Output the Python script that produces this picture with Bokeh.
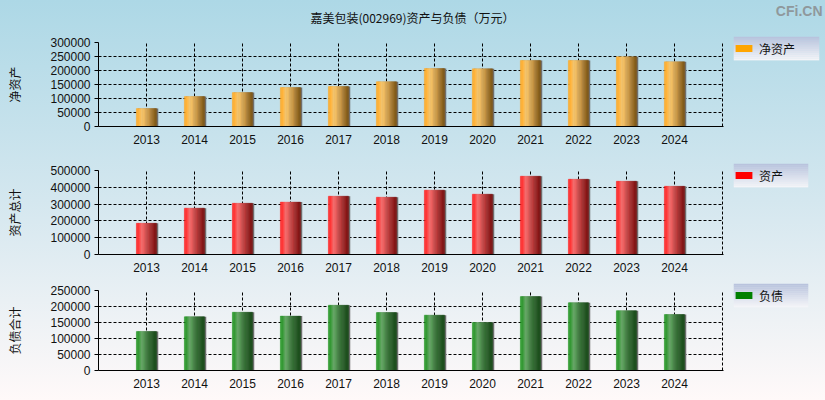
from bokeh.plotting import figure
from bokeh.layouts import column, row
from bokeh.models import (ColumnDataSource, FixedTicker, NumeralTickFormatter, Legend,
                          LegendItem, Range1d)
from bokeh.core.properties import value
from bokeh.embed import file_html
from bokeh.resources import INLINE

# ---------------- data ----------------
years = [2013, 2014, 2015, 2016, 2017, 2018, 2019, 2020, 2021, 2022, 2023, 2024]
net_assets = [64000, 107000, 121000, 139000, 143000, 160000, 207000, 206000, 236000, 236000, 249000, 231000]
total_assets = [186000, 276000, 305000, 312000, 347000, 341000, 383000, 359000, 466000, 448000, 436000, 406000]
total_liabilities = [122000, 168000, 182000, 170000, 204000, 181000, 173000, 150000, 231000, 212000, 187000, 175000]

chart_title = "嘉美包装(002969)资产与负债（万元）"
watermark = "CFi.CN"
panel_axis_labels = ["净资产", "资产总计", "负债合计"]
panel_legend_labels = ["净资产", "资产", "负债"]

# ---------------- style ----------------
W = 825
MAIN_W = 724
LEG_W = W - MAIN_W
LEFT, RIGHT = 98, 1
BW = 0.42
NSLICE = 16
TICK_FONT = "Liberation Sans"
CJK_FONT = "Noto Sans CJK SC"
COMMON = dict(output_backend="svg", toolbar_location=None, title=None, frame_align=False,
              background_fill_alpha=0, border_fill_alpha=0, outline_line_color=None)


def hex2rgb(h):
    h = h.lstrip("#")
    return tuple(int(h[i:i + 2], 16) for i in (0, 2, 4))


def grad(stops, t):
    for (p0, c0), (p1, c1) in zip(stops[:-1], stops[1:]):
        if p0 <= t <= p1:
            f = (t - p0) / (p1 - p0) if p1 > p0 else 0
            a, b = hex2rgb(c0), hex2rgb(c1)
            return "#%02x%02x%02x" % tuple(int(round(a[i] + (b[i] - a[i]) * f)) for i in range(3))
    return stops[-1][1]


def make_main(values, ymax, step, ylabel, stops, height, top, bottom):
    p = figure(width=MAIN_W, height=height, x_range=Range1d(2012, 2025 + 1.0 / 48),
               y_range=Range1d(0, ymax),
               min_border_left=LEFT, min_border_right=RIGHT,
               min_border_top=top, min_border_bottom=bottom, **COMMON)

    # shadow
    p.vbar(x=[y + 0.035 for y in years], top=values, width=BW,
           fill_color="#707070", line_color=None)
    # gradient shaded bar, drawn as thin vertical slices
    xs, tops, ws, cs = [], [], [], []
    sw = BW / NSLICE
    for y, v in zip(years, values):
        for k in range(NSLICE):
            xs.append(y - BW / 2 + (k + 0.5) * sw)
            tops.append(v)
            ws.append(sw * 1.08)
            cs.append(grad(stops, (k + 0.5) / NSLICE))
    src = ColumnDataSource(dict(x=xs, top=tops, w=ws, c=cs))
    p.vbar(x="x", top="top", width="w", fill_color="c", line_color="c", line_width=0.4, source=src)

    yt = list(range(0, ymax + 1, step))
    p.xaxis.ticker = FixedTicker(ticks=years)
    p.xgrid.ticker = FixedTicker(ticks=years + [2025])
    p.yaxis.ticker = FixedTicker(ticks=yt)
    p.ygrid.ticker = FixedTicker(ticks=yt)
    p.yaxis.formatter = NumeralTickFormatter(format="0")

    for g in (p.xgrid, p.ygrid):
        g.grid_line_color = "black"
        g.grid_line_dash = "3 2"
        g.grid_line_width = 1

    for ax in (p.xaxis, p.yaxis):
        ax.axis_line_color = "black"
        ax.axis_line_width = 1
        ax.major_tick_line_color = "black"
        ax.minor_tick_line_color = None
        ax.major_label_text_font = TICK_FONT
        ax.major_label_text_font_size = "12px"
        ax.major_label_text_color = "#111111"
    p.xaxis.major_tick_out = 0
    p.xaxis.major_tick_in = 0
    p.xaxis.major_label_standoff = 8
    p.yaxis.major_tick_out = 4
    p.yaxis.major_tick_in = 0
    p.yaxis.major_label_standoff = 4
    p.yaxis.axis_label = ylabel
    p.yaxis.axis_label_text_font = CJK_FONT
    p.yaxis.axis_label_text_font_size = "12px"
    p.yaxis.axis_label_text_font_style = "normal"
    p.yaxis.axis_label_text_color = "#111111"
    p.yaxis.axis_label_standoff = 24
    return p


def make_legend(label, color, height, box_top, box_w):
    bh = 24
    f = figure(width=LEG_W, height=height, x_range=Range1d(0, box_w), y_range=Range1d(0, bh),
               min_border_left=9, min_border_right=LEG_W - 9 - box_w,
               min_border_top=box_top, min_border_bottom=height - box_top - bh, **COMMON)
    f.axis.visible = False
    f.grid.visible = False
    n = 12
    for i in range(n):
        c = grad([(0, "#b6c1dc"), (1, "#f6f6f9")], (i + 0.5) / n)
        f.quad(left=0, right=box_w, top=bh - i * bh / n, bottom=bh - (i + 1) * bh / n - 0.3,
               fill_color=c, line_color=None)
    swatch = f.vbar(x=[0], top=[0], width=0, fill_color=color, line_color=None)
    leg = Legend(items=[LegendItem(label=label, renderers=[swatch])],
                 location="left",
                 padding=9, margin=0, spacing=0, glyph_width=21, glyph_height=9,
                 label_height=16, label_standoff=5,
                 label_text_font=CJK_FONT, label_text_font_size="12px",
                 label_text_color="#111111",
                 background_fill_alpha=0, border_line_color=None)
    f.add_layout(leg)
    return f


orange_stops = [(0, "#ffa418"), (0.28, "#ffcc6e"), (0.55, "#d9a653"), (1, "#7a5312")]
red_stops = [(0, "#ff1414"), (0.28, "#ff6e6e"), (0.55, "#c84646"), (1, "#780f0f")]
green_stops = [(0, "#159015"), (0.28, "#68ac68"), (0.55, "#3e7a3e"), (1, "#174717")]

# title strip
TH = 36
tf = figure(width=W, height=TH, x_range=Range1d(0, W), y_range=Range1d(0, TH),
            min_border_left=0, min_border_right=0, min_border_top=0, min_border_bottom=0, **COMMON)
tf.axis.visible = False
tf.grid.visible = False
tf.text(x=[412], y=[TH - 17], text=[chart_title], text_font=value(CJK_FONT), text_font_size="12px",
        text_color="#111111", text_align="center", text_baseline="middle")
tf.text(x=[W - 3], y=[TH - 10], text=[watermark], text_font=value("Liberation Sans"),
        text_font_size="14px", text_font_style="bold", text_color="#8f989c",
        text_align="right", text_baseline="middle")

p1 = make_main(net_assets, 300000, 50000, panel_axis_labels[0], orange_stops, 122, 6, 32)
p2 = make_main(total_assets, 500000, 100000, panel_axis_labels[1], red_stops, 120, 12, 24)
p3 = make_main(total_liabilities, 250000, 50000, panel_axis_labels[2], green_stops, 122, 12, 30)

l1 = make_legend(panel_legend_labels[0], "#ffa500", 122, 0, 86)
l2 = make_legend(panel_legend_labels[1], "#ff0000", 120, 5, 75)
l3 = make_legend(panel_legend_labels[2], "#008000", 122, 5, 75)

layout = column(tf, row(p1, l1, spacing=0), row(p2, l2, spacing=0), row(p3, l3, spacing=0),
                spacing=0,
                styles={"background": "linear-gradient(to bottom, #add8e6 0%, #d4e7ef 50%, #fff9f9 100%)"})

with open("out.html", "w", encoding="utf-8") as f:
    f.write(file_html(layout, INLINE, title=chart_title))
